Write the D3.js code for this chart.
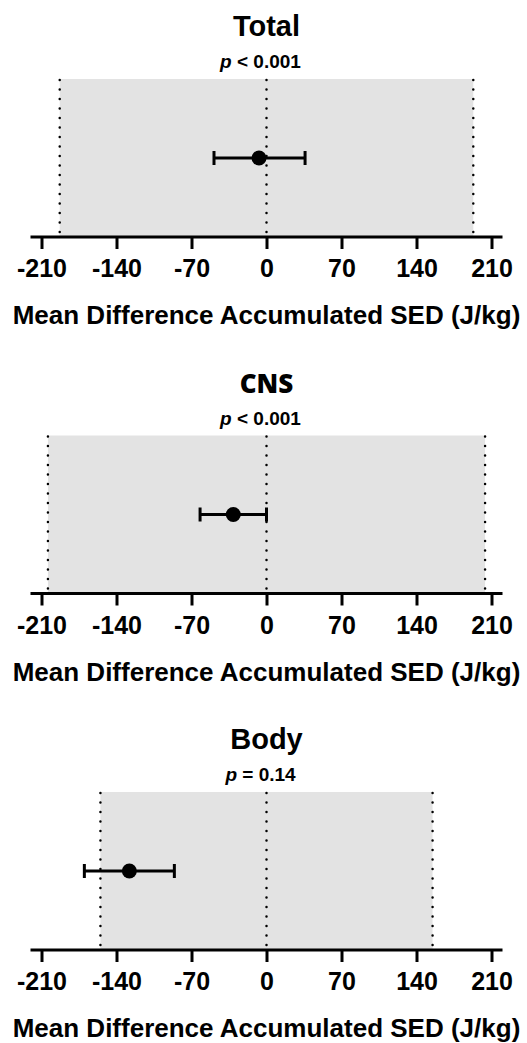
<!DOCTYPE html>
<html>
<head>
<meta charset="utf-8">
<script src="https://cdn.jsdelivr.net/npm/d3@7.9.0/dist/d3.min.js"></script>
<style>
  body { margin: 0; background: #fff; }
  svg { display: block; }
  text { font-family: "Liberation Sans", Arial, sans-serif; font-weight: bold; fill: #000; }
</style>
</head>
<body>
<svg id="chart"></svg>
<script>
// Data
const panels = ['Total', 'CNS', 'Body'];
const pLabels = [['p', ' < 0.001'], ['p', ' < 0.001'], ['p', ' = 0.14']];
const means = [-7, -31, -128];
const ciLow = [-49, -62, -170];
const ciHigh = [36, 0, -86];
const margins = [193, 204, 155];   // equivalence bounds (±)
const tickVals = [-210, -140, -70, 0, 70, 140, 210];
const axisTitle = 'Mean Difference Accumulated SED (J/kg)';

const width = 527, height = 1043;
const panelH = 356.5;

const svg = d3.select('#chart').attr('width', width).attr('height', height);

const x = d3.scaleLinear().domain([-210, 210]).range([41.5, 491.5]);

// vertical layout inside one panel
const plotTop = 79, axisY = 237;
const y = d3.scaleLinear().domain([0, 1]).range([axisY, plotTop]);

panels.forEach((name, i) => {
  const g = svg.append('g').attr('transform', `translate(0,${i * panelH})`);
  const cx = (x.range()[0] + x.range()[1]) / 2;

  // shaded equivalence region
  g.append('rect')
    .attr('x', x(-margins[i]))
    .attr('y', y(1))
    .attr('width', x(margins[i]) - x(-margins[i]))
    .attr('height', y(0) - y(1))
    .attr('fill', '#e3e3e3');

  // dotted reference lines
  [-margins[i], 0, margins[i]].forEach((v) => {
    g.append('line')
      .attr('x1', x(v)).attr('x2', x(v))
      .attr('y1', y(1) + 1).attr('y2', y(0) - 3)
      .attr('stroke', '#000')
      .attr('stroke-width', 2.5)
      .attr('stroke-linecap', 'round')
      .attr('stroke-dasharray', '0.1 9.4');
  });

  // error bar
  const py = y(0.5);
  g.append('line')
    .attr('x1', x(ciLow[i])).attr('x2', x(ciHigh[i]))
    .attr('y1', py).attr('y2', py)
    .attr('stroke', '#000').attr('stroke-width', 3);
  [ciLow[i], ciHigh[i]].forEach((v) => {
    g.append('line')
      .attr('x1', x(v)).attr('x2', x(v))
      .attr('y1', py - 7).attr('y2', py + 7)
      .attr('stroke', '#000').attr('stroke-width', 3);
  });
  g.append('circle')
    .attr('cx', x(means[i])).attr('cy', py).attr('r', 7.5)
    .attr('fill', '#000');

  // x axis
  const axis = g.append('g')
    .attr('transform', `translate(0,${axisY})`)
    .call(d3.axisBottom(x).tickValues(tickVals).tickFormat((d) => String(d))
      .tickSize(12).tickSizeOuter(0));
  axis.select('.domain').remove();
  axis.selectAll('.tick line').attr('stroke', '#000').attr('stroke-width', 3);
  axis.selectAll('.tick text')
    .attr('y', 40).attr('dy', null)
    .style('font-size', '25px')
    .style('font-family', '"Liberation Sans", Arial, sans-serif')
    .style('font-weight', 'bold')
    .attr('fill', '#000');
  axis.append('line')
    .attr('x1', x(-210) - 11).attr('x2', x(210) + 11)
    .attr('y1', 0).attr('y2', 0)
    .attr('stroke', '#000').attr('stroke-width', 3);

  // titles
  g.append('text')
    .attr('x', cx).attr('y', 36)
    .attr('text-anchor', 'middle')
    .style('font-size', name === 'CNS' ? '26px' : '29px')
    .style('font-family', name === 'CNS' ? '"Open Sans", sans-serif' : null)
    .style('font-weight', name === 'CNS' ? 800 : null)
    .text(name);

  const pt = g.append('text')
    .attr('x', cx - 6).attr('y', 68)
    .attr('text-anchor', 'middle')
    .style('font-size', '19px');
  pt.append('tspan').style('font-style', 'italic').text(pLabels[i][0]);
  pt.append('tspan').text(pLabels[i][1]);

  g.append('text')
    .attr('x', cx).attr('y', 324)
    .attr('text-anchor', 'middle')
    .style('font-size', '26px')
    .text(axisTitle);
});
</script>
</body>
</html>
